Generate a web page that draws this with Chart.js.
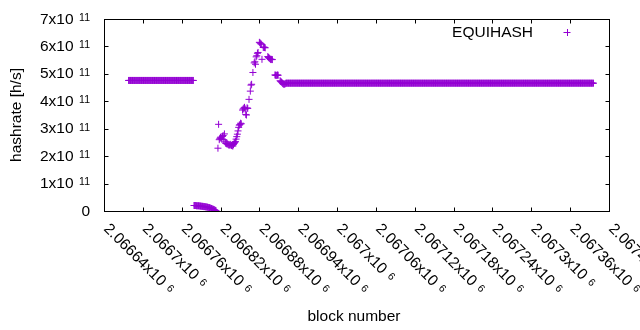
<!DOCTYPE html>
<html>
<head>
<meta charset="utf-8">
<script src="https://cdn.jsdelivr.net/npm/chart.js@4/dist/chart.umd.min.js"></script>
<style>
html, body { margin: 0; padding: 0; background: #fff; }
#wrap { width: 640px; height: 330px; }
</style>
</head>
<body>
<div id="wrap"><canvas id="chart" width="640" height="330"></canvas></div>
<script>
// =====================================
// DATA (hashrate in units of 1e11 h/s)
// =====================================

const seriesName = "EQUIHASH";

// constant stretches, one point per block: [first block, last block, hashrate]
const flatRuns = [
    [2066678, 2066778, 4.76],
    [2066921, 2067396, 4.66]
];

// the drop right after the first stretch
const dropBlocks = [
    2066779, 2066780, 2066781, 2066782, 2066783, 2066784, 2066785, 2066786, 2066787, 2066788,
    2066789, 2066790, 2066791, 2066792, 2066793, 2066794, 2066795, 2066796, 2066797, 2066798,
    2066799, 2066800, 2066801, 2066802, 2066803, 2066804, 2066805, 2066806, 2066807, 2066808,
    2066809, 2066810, 2066811, 2066812, 2066813
];
const dropHash = [
    0.20, 0.20, 0.20, 0.20, 0.19, 0.19, 0.19, 0.19, 0.19, 0.18,
    0.18, 0.18, 0.17, 0.17, 0.17, 0.16, 0.16, 0.16, 0.15, 0.15,
    0.14, 0.14, 0.13, 0.12, 0.12, 0.11, 0.10, 0.09, 0.08, 0.07,
    0.06, 0.05, 0.04, 0.02, 0.01
];

// the recovery and overshoot
const riseBlocks = [
    2066816, 2066817, 2066818, 2066819, 2066820, 2066821, 2066822, 2066823, 2066824, 2066825,
    2066826, 2066827, 2066828, 2066829, 2066830, 2066831, 2066832, 2066833, 2066834, 2066835,
    2066836, 2066837, 2066838, 2066839, 2066840, 2066841, 2066842, 2066843, 2066844, 2066845,
    2066846, 2066847, 2066848, 2066849, 2066850, 2066851, 2066852, 2066854, 2066855, 2066856,
    2066857, 2066858, 2066859, 2066860, 2066861, 2066862, 2066864, 2066866, 2066867, 2066868,
    2066870, 2066872, 2066873, 2066874, 2066875, 2066876, 2066877, 2066878, 2066880, 2066881,
    2066882, 2066883, 2066884, 2066886, 2066887, 2066888, 2066889, 2066893, 2066894, 2066895,
    2066896, 2066897, 2066898, 2066899, 2066900, 2066904, 2066905, 2066906, 2066907, 2066908,
    2066909, 2066912, 2066913, 2066914, 2066915, 2066916, 2066917, 2066918, 2066919, 2066920
];
const riseHash = [
    2.29, 3.16, 2.60, 2.65, 2.69, 2.66, 2.62, 2.72, 2.75, 2.60,
    2.81, 2.52, 2.47, 2.46, 2.44, 2.45, 2.42, 2.40, 2.41, 2.43,
    2.40, 2.39, 2.38, 2.37, 2.42, 2.46, 2.50, 2.53, 2.62, 2.71,
    2.80, 2.92, 3.05, 3.13, 3.15, 3.20, 3.18, 3.68, 3.72, 3.75,
    3.78, 3.72, 3.52, 3.50, 3.76, 3.74, 4.07, 4.37, 4.59, 4.62,
    5.05, 5.40, 5.44, 5.35, 5.62, 5.66, 5.75, 5.78, 6.15, 6.13,
    6.10, 6.08, 5.53, 5.96, 5.98, 5.96, 5.95, 5.63, 5.60, 5.58,
    5.56, 5.53, 5.52, 5.53, 5.52, 4.96, 4.95, 4.95, 4.94, 4.96,
    4.95, 4.75, 4.72, 4.70, 4.68, 4.65, 4.63, 4.62, 4.63, 4.64
];

// axes
const xMin = 2066640;
const xMax = 2067420;
const xStep = 60;
const xExponent = 6;
const yMax = 7;          // x 1e11
const yStep = 1;
const yExponent = 11;

// =====================================
// BUILD POINTS
// =====================================

const UNIT = Math.pow(10, yExponent);
const points = [];

function pushRun(run) {
    for (let b = run[0]; b <= run[1]; b++) points.push({ x: b, y: run[2] * UNIT });
}

pushRun(flatRuns[0]);
dropBlocks.forEach((b, i) => points.push({ x: b, y: dropHash[i] * UNIT }));
riseBlocks.forEach((b, i) => points.push({ x: b, y: riseHash[i] * UNIT }));
pushRun(flatRuns[1]);

// =====================================
// STYLE
// =====================================

const PURPLE = "#9400d3";
const FONT = "Liberation Sans, Arial, sans-serif";
const MAIN_PX = 15.5;
const SUP_PX = 10.5;
const TICK_LEN = 4;

function fmt(n) {
    return String(parseFloat(n.toFixed(6)));
}

// gnuplot-like frame, inward ticks, labels with superscripts, key
const gnuplotLook = {
    id: "gnuplotLook",
    afterDraw(chart) {
        const ctx = chart.ctx;
        const a = chart.chartArea;
        const xs = chart.scales.x;
        const ys = chart.scales.y;
        const L = Math.round(a.left) + 0.5;
        const R = Math.round(a.right) + 0.5;
        const T = Math.round(a.top) + 0.5;
        const B = Math.round(a.bottom) + 0.5;

        ctx.save();
        ctx.strokeStyle = "#000";
        ctx.lineWidth = 1;
        ctx.strokeRect(L, T, R - L, B - T);

        ctx.beginPath();
        xs.ticks.forEach(t => {
            const px = Math.round(xs.getPixelForValue(t.value)) + 0.5;
            ctx.moveTo(px, B); ctx.lineTo(px, B - TICK_LEN);
            ctx.moveTo(px, T); ctx.lineTo(px, T + TICK_LEN);
        });
        ys.ticks.forEach(t => {
            const py = Math.round(ys.getPixelForValue(t.value)) + 0.5;
            ctx.moveTo(L, py); ctx.lineTo(L + TICK_LEN, py);
            ctx.moveTo(R, py); ctx.lineTo(R - TICK_LEN, py);
        });
        ctx.stroke();

        ctx.fillStyle = "#000";

        // y tick labels
        ys.ticks.forEach(t => {
            const py = ys.getPixelForValue(t.value);
            const m = Math.round(t.value / UNIT);
            const right = 90;
            const base = py + 4.5;
            ctx.textBaseline = "alphabetic";
            ctx.textAlign = "left";
            if (m === 0) {
                ctx.font = MAIN_PX + "px " + FONT;
                ctx.textAlign = "right";
                ctx.fillText("0", right, base);
                return;
            }
            const main = m + "x10";
            const sup = String(yExponent);
            ctx.font = MAIN_PX + "px " + FONT;
            const wm = ctx.measureText(main).width;
            ctx.font = SUP_PX + "px " + FONT;
            const ws = ctx.measureText(sup).width;
            const x0 = right - ws - 5.5 - wm;
            ctx.font = MAIN_PX + "px " + FONT;
            ctx.fillText(main, x0, base);
            ctx.font = SUP_PX + "px " + FONT;
            ctx.fillText(sup, x0 + wm + 5.5, base - 2.6);
        });

        // x tick labels, rotated
        xs.ticks.forEach(t => {
            const px = xs.getPixelForValue(t.value);
            const main = fmt(t.value / Math.pow(10, xExponent)) + "x10";
            ctx.save();
            ctx.translate(px - 1, 229.5);
            ctx.rotate(Math.PI / 4);
            ctx.textAlign = "left";
            ctx.textBaseline = "alphabetic";
            ctx.font = MAIN_PX + "px " + FONT;
            const wm = ctx.measureText(main).width;
            ctx.fillText(main, 0, 0);
            ctx.font = SUP_PX + "px " + FONT;
            ctx.fillText(String(xExponent), wm + 5.5, -2.6);
            ctx.restore();
        });

        // axis titles
        ctx.font = MAIN_PX + "px " + FONT;
        ctx.textAlign = "center";
        ctx.textBaseline = "alphabetic";
        ctx.fillText("block number", 354, 321);

        ctx.save();
        ctx.translate(17, 115);
        ctx.rotate(-Math.PI / 2);
        ctx.textBaseline = "middle";
        ctx.fillText("hashrate [h/s]", 0, 0);
        ctx.restore();

        // key
        ctx.textAlign = "right";
        ctx.textBaseline = "alphabetic";
        ctx.fillText(seriesName, 533, 37);
        ctx.strokeStyle = PURPLE;
        ctx.beginPath();
        ctx.moveTo(563.5, 32.5); ctx.lineTo(570.5, 32.5);
        ctx.moveTo(567.5, 29); ctx.lineTo(567.5, 36);
        ctx.stroke();

        ctx.restore();
    }
};

// =====================================
// CHART
// =====================================

new Chart(document.getElementById("chart"), {
    type: "scatter",
    data: {
        datasets: [{
            label: seriesName,
            data: points,
            pointStyle: "cross",
            pointRadius: 3.5,
            pointHoverRadius: 3.5,
            borderColor: PURPLE,
            backgroundColor: PURPLE,
            borderWidth: 1
        }]
    },
    options: {
        responsive: false,
        devicePixelRatio: 1,
        animation: false,
        events: [],
        layout: {
            padding: { left: 0, right: 31, top: 19, bottom: 0 }
        },
        plugins: {
            legend: { display: false },
            tooltip: { enabled: false }
        },
        scales: {
            x: {
                type: "linear",
                min: xMin,
                max: xMax,
                ticks: { stepSize: xStep, display: false },
                grid: { display: false },
                border: { display: false },
                afterFit: s => { s.height = 119; }
            },
            y: {
                min: 0,
                max: yMax * UNIT,
                ticks: { stepSize: yStep * UNIT, display: false },
                grid: { display: false },
                border: { display: false },
                afterFit: s => { s.width = 104; }
            }
        }
    },
    plugins: [gnuplotLook]
});
</script>
</body>
</html>
